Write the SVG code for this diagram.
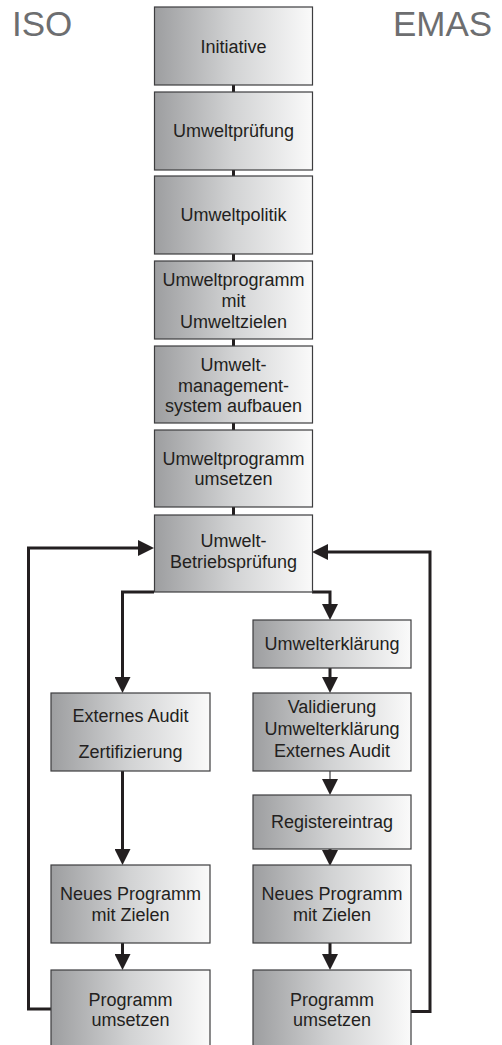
<svg xmlns="http://www.w3.org/2000/svg" width="502" height="1045" viewBox="0 0 502 1045">
<defs>
<linearGradient id="g" x1="0" y1="0" x2="1" y2="0">
<stop offset="0" stop-color="#9d9ea0"/>
<stop offset="0.5" stop-color="#d2d3d4"/>
<stop offset="1" stop-color="#fafafa"/>
</linearGradient>
<marker id="ah" markerUnits="userSpaceOnUse" markerWidth="16" markerHeight="16" refX="10" refY="8" orient="auto" viewBox="0 0 16 16">
<path d="M0,0 L16,8 L0,16 z" fill="#231f20"/>
</marker>
<style>
.box{fill:url(#g);stroke:#3d3d3f;stroke-width:1.2}
.t{font-family:"Liberation Sans",Arial,sans-serif;font-size:18px;fill:#231f20;text-anchor:middle}
.h{font-family:"Liberation Sans",Arial,sans-serif;font-size:35px;fill:#6d6e70}
.c{fill:none;stroke:#231f20;stroke-width:3}
.thin{fill:none;stroke:#4d4d4f;stroke-width:1.3}
</style>
</defs>
<rect width="502" height="1045" fill="#fff"/>
<text class="h" x="12" y="36">ISO</text>
<text class="h" x="393" y="36">EMAS</text>

<g id="connectors">
<path class="c" d="M233.5,85 V92 M233.5,170 V176 M233.5,254 V261 M233.5,339 V346 M233.5,423 V430 M233.5,507 V515"/>
<path class="c" d="M51,1009 H28.5 V548 H148" marker-end="url(#ah)"/>
<path class="c" d="M411,1011.5 H430 V552 H318" marker-end="url(#ah)"/>
<path class="c" d="M154,592 H122.5 V687" marker-end="url(#ah)"/>
<path class="c" d="M312,592 H330 V614" marker-end="url(#ah)"/>
<path class="c" d="M330,668 V687" marker-end="url(#ah)"/>
<path class="thin" d="M330,771 V789" marker-end="url(#ah)"/>
<path class="c" d="M330,849 V860" marker-end="url(#ah)"/>
<path class="c" d="M122.5,771 V859" marker-end="url(#ah)"/>
<path class="c" d="M122.5,943 V964" marker-end="url(#ah)"/>
<path class="c" d="M330,943 V964" marker-end="url(#ah)"/>
</g>

<g id="n1"><rect class="box" x="154.5" y="7" width="158" height="78"/><text class="t" x="233.5" y="53">Initiative</text></g>
<g id="n2"><rect class="box" x="154.5" y="92" width="158" height="78"/><text class="t" x="233.5" y="137">Umweltprüfung</text></g>
<g id="n3"><rect class="box" x="154.5" y="176" width="158" height="78"/><text class="t" x="233.5" y="221">Umweltpolitik</text></g>
<g id="n4"><rect class="box" x="154.5" y="261" width="158" height="78"/><text class="t" x="233.5" y="286">Umweltprogramm</text><text class="t" x="233.5" y="307">mit</text><text class="t" x="233.5" y="328">Umweltzielen</text></g>
<g id="n5"><rect class="box" x="154.5" y="346" width="158" height="77"/><text class="t" x="233.5" y="371">Umwelt-</text><text class="t" x="233.5" y="391.5">management-</text><text class="t" x="233.5" y="412">system aufbauen</text></g>
<g id="n6"><rect class="box" x="154.5" y="430" width="158" height="77"/><text class="t" x="233.5" y="465">Umweltprogramm</text><text class="t" x="233.5" y="485">umsetzen</text></g>
<g id="n7"><rect class="box" x="154.5" y="515" width="158" height="77"/><text class="t" x="233.5" y="547">Umwelt-</text><text class="t" x="233.5" y="568">Betriebsprüfung</text></g>

<g id="e1"><rect class="box" x="253" y="620" width="158" height="48"/><text class="t" x="332" y="650">Umwelterklärung</text></g>
<g id="e2"><rect class="box" x="253" y="693" width="158" height="78"/><text class="t" x="332" y="713">Validierung</text><text class="t" x="332" y="735">Umwelterklärung</text><text class="t" x="332" y="757">Externes Audit</text></g>
<g id="e3"><rect class="box" x="253" y="795" width="158" height="54"/><text class="t" x="332" y="828">Registereintrag</text></g>
<g id="e4"><rect class="box" x="253" y="865" width="158" height="78"/><text class="t" x="332" y="900">Neues Programm</text><text class="t" x="332" y="921">mit Zielen</text></g>
<g id="e5"><rect class="box" x="253" y="970" width="158" height="80"/><text class="t" x="332" y="1006">Programm</text><text class="t" x="332" y="1026">umsetzen</text></g>

<g id="i1"><rect class="box" x="51" y="693" width="159" height="78"/><text class="t" x="130.5" y="722">Externes Audit</text><text class="t" x="130.5" y="758">Zertifizierung</text></g>
<g id="i2"><rect class="box" x="51" y="865" width="159" height="78"/><text class="t" x="130.5" y="900">Neues Programm</text><text class="t" x="130.5" y="921">mit Zielen</text></g>
<g id="i3"><rect class="box" x="51" y="970" width="159" height="80"/><text class="t" x="130.5" y="1006">Programm</text><text class="t" x="130.5" y="1026">umsetzen</text></g>
</svg>
